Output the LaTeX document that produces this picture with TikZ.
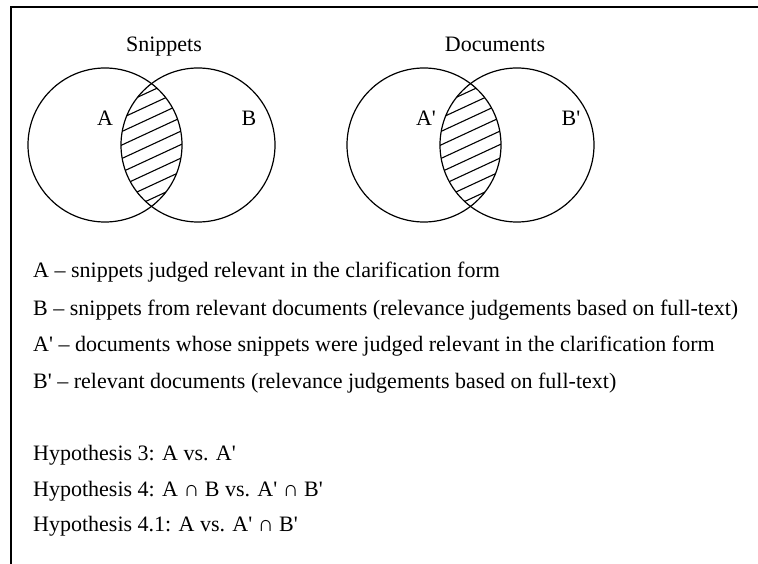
\documentclass[tikz,border=0pt]{standalone}
\usepackage{fontspec}
\setmainfont{Liberation Serif}
\usetikzlibrary{positioning}

\newcommand{\apos}{\textquotesingle}

\tikzset{
  venn/.style={line width=1.2pt},
  hatch/.style={line width=1.1pt},
  settext/.style={font=\fontsize{22}{24}\selectfont, inner sep=0pt},
  legend/.style={settext, anchor=base west},
}

\begin{document}
\begin{tikzpicture}[x=1pt,y=-1pt]
  	\useasboundingbox (0,0) rectangle (758,564);
  	\draw[line width=2pt] (758,7) -- (11,7) -- (11,564);

  	% snippets
  	\node[settext, anchor=base] (snip) at (164,52) {Snippets};
  	\draw[venn] (105,145) circle (77pt);
  	\draw[venn] (198,145) circle (77pt);
  	\begin{scope}
  	  \clip (105,145) circle (77pt);
  	  \clip (198,145) circle (77pt);
  	  \foreach \k in {-7,...,7}
  	    \draw[hatch] (110,{145+\k*13.5+19}) -- (192,{145+\k*13.5-19});
  	\end{scope}
  	\node[settext, anchor=base] (a) at (105,126) {A};
  	\node[settext, anchor=base] (b) at (249,126) {B};

  	% documents
  	\node[settext, anchor=base] (docs) at (495,52) {Documents};
  	\draw[venn] (424,145) circle (77pt);
  	\draw[venn] (517,145) circle (77pt);
  	\begin{scope}
  	  \clip (424,145) circle (77pt);
  	  \clip (517,145) circle (77pt);
  	  \foreach \k in {-7,...,7}
  	    \draw[hatch] (429,{145+\k*13.5+19}) -- (511,{145+\k*13.5-19});
  	\end{scope}
  	\node[settext, anchor=base] (a2) at (426,126) {A\apos};
  	\node[settext, anchor=base] (b2) at (571,126) {B\apos};

  	% legend
  	\node[legend] (la) at (33,278) {A – snippets judged relevant in the clarification form};
  	\node[legend] (lb) at (33,315) {B – snippets from relevant documents (relevance judgements based on full-text)};
  	\node[legend] (la2) at (33,351) {A\apos{} – documents whose snippets were judged relevant in the clarification form};
  	\node[legend] (lb2) at (33,388) {B\apos{} – relevant documents (relevance judgements based on full-text)};

  	\node[legend] (h3) at (33,460) {Hypothesis 3: A vs. A\apos};
  	\node[legend] (h4) at (33,496) {Hypothesis 4: A ∩ B vs. A\apos{} ∩ B\apos};
  	\node[legend] (h41) at (33,531) {Hypothesis 4.1: A vs. A\apos{} ∩ B\apos};
\end{tikzpicture}
\end{document}
